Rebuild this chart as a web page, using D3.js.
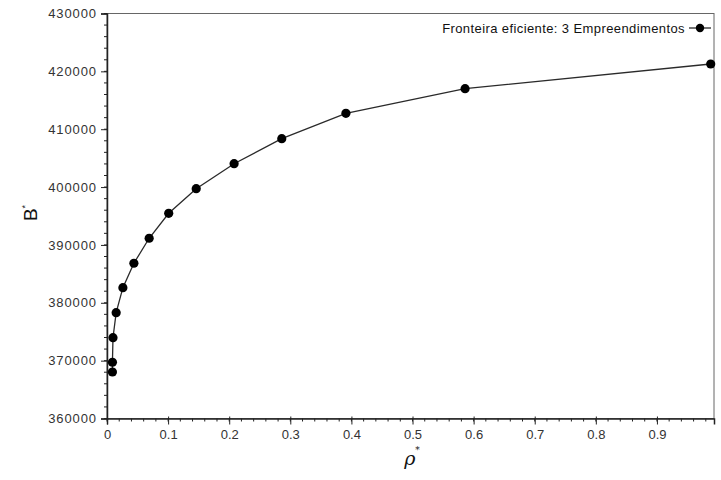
<!DOCTYPE html>
<html>
<head>
<meta charset="utf-8">
<script src="https://cdn.jsdelivr.net/npm/d3@7"></script>
<style>
  html, body { margin: 0; padding: 0; background: #fff; }
  svg { display: block; }
</style>
</head>
<body>
<svg id="chart" width="721" height="480"></svg>
<script>
// Efficient frontier: risk (rho*) vs. benefit (B*)
const rhoValues = [0.0089, 0.0089, 0.0098, 0.015, 0.026, 0.044, 0.069, 0.101, 0.146, 0.208, 0.286, 0.391, 0.586, 0.988];
const benefitValues = [368040, 369720, 373970, 378290, 382610, 386830, 391150, 395470, 399720, 404040, 408360, 412750, 417000, 421270];
const xTickValues = [0, 0.1, 0.2, 0.3, 0.4, 0.5, 0.6, 0.7, 0.8, 0.9];
const yTickValues = [360000, 370000, 380000, 390000, 400000, 410000, 420000, 430000];
const seriesLabel = "Fronteira eficiente: 3 Empreendimentos";

const points = rhoValues.map((r, i) => ({ x: r, y: benefitValues[i] }));

const svg = d3.select("#chart");
const plotLeft = 107, plotRight = 714, plotTop = 13.5, plotBottom = 418.5;

const x = d3.scaleLinear().domain([0, 0.9934]).range([plotLeft, plotRight]);
const y = d3.scaleLinear().domain([360000, 430000]).range([plotBottom, plotTop]);

const axisColor = "#222";
const textColor = "#333";
const fontFamily = "'Liberation Sans', Arial, sans-serif";

// plot frame
svg.append("rect")
  .attr("x", plotLeft).attr("y", plotTop)
  .attr("width", plotRight - plotLeft).attr("height", plotBottom - plotTop)
  .attr("fill", "none").attr("stroke", "#666").attr("stroke-width", 1);

// minor ticks
const xMinor = d3.range(0, 0.99, 0.02).map(v => +v.toFixed(2));
const yMinor = d3.range(360000, 430001, 2000);

svg.append("g").selectAll("line").data(xMinor).join("line")
  .attr("x1", d => x(d)).attr("x2", d => x(d))
  .attr("y1", plotBottom).attr("y2", plotBottom + 3)
  .attr("stroke", axisColor).attr("stroke-width", 1);

svg.append("g").selectAll("line").data(yMinor).join("line")
  .attr("x1", plotLeft - 3).attr("x2", plotLeft)
  .attr("y1", d => y(d)).attr("y2", d => y(d))
  .attr("stroke", axisColor).attr("stroke-width", 1);

// x axis
const xAxis = d3.axisBottom(x).tickValues(xTickValues).tickSize(6).tickPadding(5)
  .tickFormat(d => d === 0 ? "0" : d3.format(".1f")(d));
const gx = svg.append("g").attr("transform", `translate(0,${plotBottom})`).call(xAxis);
gx.select(".domain").attr("stroke", axisColor).attr("stroke-width", 1.5);
gx.selectAll(".tick line").attr("stroke", axisColor).attr("y1", -2);
gx.selectAll(".tick text").attr("fill", textColor).attr("font-size", 13).attr("font-family", fontFamily);

// y axis
const yAxis = d3.axisLeft(y).tickValues(yTickValues).tickSize(6).tickPadding(4)
  .tickFormat(d3.format("d"));
const gy = svg.append("g").attr("transform", `translate(${plotLeft},0)`).call(yAxis);
gy.select(".domain").attr("stroke", axisColor).attr("stroke-width", 1.5);
gy.selectAll(".tick line").attr("stroke", axisColor);
gy.selectAll(".tick text").attr("fill", textColor).attr("font-size", 13)
  .attr("font-family", fontFamily).attr("letter-spacing", "0.9px");

// curve
const line = d3.line().x(d => x(d.x)).y(d => y(d.y));
svg.append("path").datum(points)
  .attr("d", line).attr("fill", "none")
  .attr("stroke", "#2a2a2a").attr("stroke-width", 1.3);

svg.append("g").selectAll("circle").data(points).join("circle")
  .attr("cx", d => x(d.x)).attr("cy", d => y(d.y)).attr("r", 4.6)
  .attr("fill", "#000");

// legend
const legend = svg.append("g").attr("transform", "translate(0,28)");
legend.append("text")
  .attr("x", 685).attr("y", 0).attr("dy", "0.35em")
  .attr("text-anchor", "end")
  .attr("font-size", 13).attr("letter-spacing", "0.4px")
  .attr("font-family", fontFamily).attr("fill", "#111")
  .text(seriesLabel);
legend.append("line")
  .attr("x1", 689).attr("x2", 711).attr("y1", 0).attr("y2", 0)
  .attr("stroke", "#2a2a2a").attr("stroke-width", 1.3);
legend.append("circle").attr("cx", 700).attr("cy", 0).attr("r", 4.2).attr("fill", "#000");

// axis titles
const yTitle = svg.append("text")
  .attr("transform", "translate(37,213) rotate(-90)")
  .attr("text-anchor", "middle")
  .attr("font-size", 19).attr("font-family", fontFamily).attr("fill", "#111");
yTitle.append("tspan").text("B");
yTitle.append("tspan").attr("font-size", 9).attr("dy", "-1.0em").text("*");

const xTitle = svg.append("text")
  .attr("x", 412).attr("y", 465)
  .attr("text-anchor", "middle")
  .attr("font-size", 19).attr("font-style", "italic")
  .attr("font-family", "'DejaVu Serif', 'Liberation Serif', serif").attr("fill", "#111");
xTitle.append("tspan").text("ρ");
xTitle.append("tspan").attr("font-size", 9).attr("font-style", "normal").attr("dy", "-1.3em").text("*");
</script>
</body>
</html>
